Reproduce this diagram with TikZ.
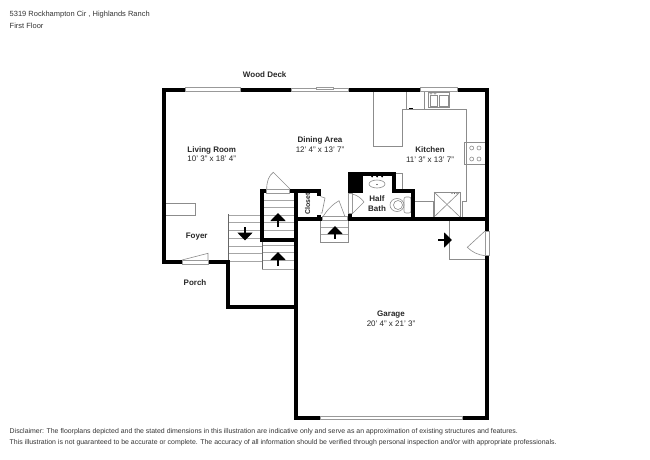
\documentclass[tikz,border=0pt]{standalone}
\usepackage{fontspec}
\setmainfont{Liberation Sans}
\usetikzlibrary{arrows.meta}

\begin{document}
\begin{tikzpicture}[x=1pt, y=-1pt, every node/.style={inner sep=0pt, align=center, font=\fontsize{8}{9.6}\selectfont, text=black!85},
  wall/.style={line width=4pt, line join=miter, line cap=butt},
  thin line/.style={draw=black!45, line width=0.6pt},
  tread/.style={draw=black!35, line width=0.6pt},
  opening/.style={draw=black!40, fill=white, line width=0.5pt},
  stair arrow/.style={line width=1.8pt, -{Triangle[length=8pt, width=15pt]}},
  head text/.style={font=\fontsize{7.5}{9}\selectfont, text=black!80, align=left, anchor=west},
  small text/.style={font=\fontsize{6.95}{9}\selectfont, text=black!80, align=left, anchor=west}]
  \useasboundingbox (0,0) rectangle (650,460);

  % treads
  \foreach \y in {215,222.7,230,238,246,253,261}{\draw[tread] (228,\y) -- (262,\y);}
  \foreach \y in {192.7,200,207.5,215,222.7,230}{\draw[tread] (264,\y) -- (294,\y);}
  \foreach \y in {245,252.7,260.7,269.3}{\draw[tread] (262,\y) -- (294,\y);}
  \foreach \y in {227,234.5,242}{\draw[tread] (320,\y) -- (348,\y);}
  \draw[thin line] (320,220) -- (320,242) -- (348,242) -- (348,220);
  \draw[draw=black!60, line width=0.7pt] (228,214) -- (228,262);
  \draw[draw=black!60, line width=0.7pt] (262,240) -- (262,269.3);

  % thin outlines
  \draw[thin line] (165.5,203) -- (195,203) -- (195,215) -- (165.5,215);
  \draw[thin line] (373,91) -- (373,146) -- (402,146) -- (402,109.3) -- (466.5,109.3) -- (466.5,201.7) -- (462,201.7) -- (462,218);
  \draw[thin line] (406.7,91) -- (406.7,109.3);
  \draw[thin line] (424,91) -- (424,109.3);
  \draw[thin line] (396,173) -- (402,173) -- (402,189);
  \draw[thin line] (415,201.7) -- (433,201.7) -- (433,217);
  \draw[thin line] (449,220) -- (449,259) -- (485,259);
  \fill[black] (409,107.8) rectangle (413,109.3);

  % kitchen sink
  \draw[thin line] (428,92.7) rectangle (449,107);
  \draw[thin line] (430,95) rectangle (437,106);
  \draw[thin line] (439,95) rectangle (448,106);
  \draw[thin line] (431,93) circle (1.2);
  \draw[thin line] (435,93) circle (1.2);

  % stove
  \draw[thin line] (464.3,142.7) rectangle (485,164);
  \foreach \x in {471.7,479}{\foreach \y in {148,159}{\draw[thin line] (\x,\y) circle (2);}}

  % washer
  \draw[thin line] (434,192) rectangle (460,217);
  \draw[thin line] (434,192) -- (460,217);
  \draw[thin line] (434,217) -- (460,192);
  \foreach \x in {452,454.5,457}{\fill[black!60] (\x,193.5) circle (0.6);}

  % bath sink and toilet
  \draw[thin line] (377,184) ellipse (8 and 4);
  \fill[black] (377,184.5) circle (0.7);
  \foreach \x in {372,377,382}{\fill[black] (\x,176.5) circle (1);}
  \draw[thin line] (397,205) ellipse (7 and 6.5);
  \draw[thin line] (398,205) ellipse (4.5 and 4.5);
  \draw[thin line, rounded corners=2pt] (404,197) rectangle (411,213);

  % walls
  \draw[wall] (185.5,89.5) -- (164,89.5) -- (164,262) -- (182,262);
  \draw[wall] (208,262) -- (228,262) -- (228,307) -- (295.5,307);
  \draw[wall] (240,89.5) -- (291.5,89.5);
  \draw[wall] (348,89.5) -- (420,89.5);
  \draw[wall] (457,89.5) -- (487,89.5) -- (487,231);
  \draw[wall] (487,255.5) -- (487,418) -- (462,418);
  \draw[wall] (320,418) -- (295.5,418) -- (295.5,191) -- (289,191);
  \draw[wall] (295.5,191) -- (318.5,191) -- (318.5,196);
  \draw[wall] (266,191) -- (262,191) -- (262,240) -- (295.5,240);
  \draw[wall] (295.5,218.5) -- (322,218.5);
  \draw[wall] (318.5,214.5) -- (318.5,218.5);
  \draw[wall] (347,218.5) -- (487,218.5);
  \draw[wall] (350,218.5) -- (350,213);
  \draw[wall] (350,193) -- (350,173.8) -- (394,173.8) -- (394,191) -- (413,191) -- (413,218.5);
  \fill[black] (348,172) rectangle (363,193);

  % windows and doors
  \draw[opening] (185.5,87.7) rectangle (240,91.3);
  \draw[opening] (420,87.7) rectangle (457,91.3);
  \draw[opening] (291.5,88.2) rectangle (348,91.3);
  \draw[opening] (316,86.8) rectangle (333,89.2);
  \draw[opening] (182,260.2) rectangle (208,263.8);
  \draw[opening] (320,416.3) rectangle (462,419.7);
  \draw[opening] (485.2,231) rectangle (488.8,255.5);
  \draw[opening] (266,189.2) rectangle (289,192.8);
  \draw[opening] (322,216.7) rectangle (347,220.3);
  \draw[opening] (348.2,193) rectangle (351.8,213);
  \draw[thin line] (182,260) -- (208,253.3) -- (208,260);
  \draw[thin line] (266.7,189) .. controls (266.7,181) and (269,175.5) .. (273.3,172.3) -- (290,189);
  \draw[thin line] (323,216.7) .. controls (327,210) and (333,204) .. (339,200.7) -- (345,216.7);
  \draw[thin line] (352,194) .. controls (357,195) and (361,198) .. (364,202) -- (352,214);
  \draw[thin line] (485,231) -- (467.3,247.3) .. controls (472,252) and (478,255) .. (485,255.7);
  \draw[thin line] (320.5,196.5) -- (325,198) -- (322,213) -- (320.5,213);

  % stair arrows
  \draw[stair arrow] (278,227) -- (278,213);
  \draw[stair arrow] (278,265.5) -- (278,252);
  \draw[stair arrow] (245,227) -- (245,240.5);
  \draw[stair arrow] (335,238.5) -- (335,226);
  \draw[stair arrow] (438,240) -- (452,240);

  % labels
  \node (deck) at (264.7,74.5) {\textbf{Wood Deck}};
  \node (living) at (211.7,154) {\textbf{Living Room}\\10' 3" x 18' 4"};
  \node (dining) at (320,144.5) {\textbf{Dining Area}\\12' 4" x 13' 7"};
  \node (kitchen) at (430,154.5) {\textbf{Kitchen}\\11' 3" x 13' 7"};
  \node (bath) at (377,203.5) {\textbf{Half}\\\textbf{Bath}};
  \node[rotate=90, font=\fontsize{7}{8}\selectfont] (closet) at (307.7,204) {\textbf{Closet}};
  \node (foyer) at (196.7,236.7) {\textbf{Foyer}};
  \node (porch) at (195,283) {\textbf{Porch}};
  \node (garage) at (391,319) {\textbf{Garage}\\20' 4" x 21' 3"};
  \node[head text] (address) at (9.5,15) {5319 Rockhampton Cir , Highlands Ranch};
  \node[head text] (floor) at (9.5,26) {First Floor};
  \node[small text] (note a) at (9.5,432) {Disclaimer: The floorplans depicted and the stated dimensions in this illustration are indicative only and serve as an approximation of existing structures and features.};
  \node[small text] (note b) at (9.5,443) {This illustration is not guaranteed to be accurate or complete. The accuracy of all information should be verified through personal inspection and/or with appropriate professionals.};
\end{tikzpicture}
\end{document}
